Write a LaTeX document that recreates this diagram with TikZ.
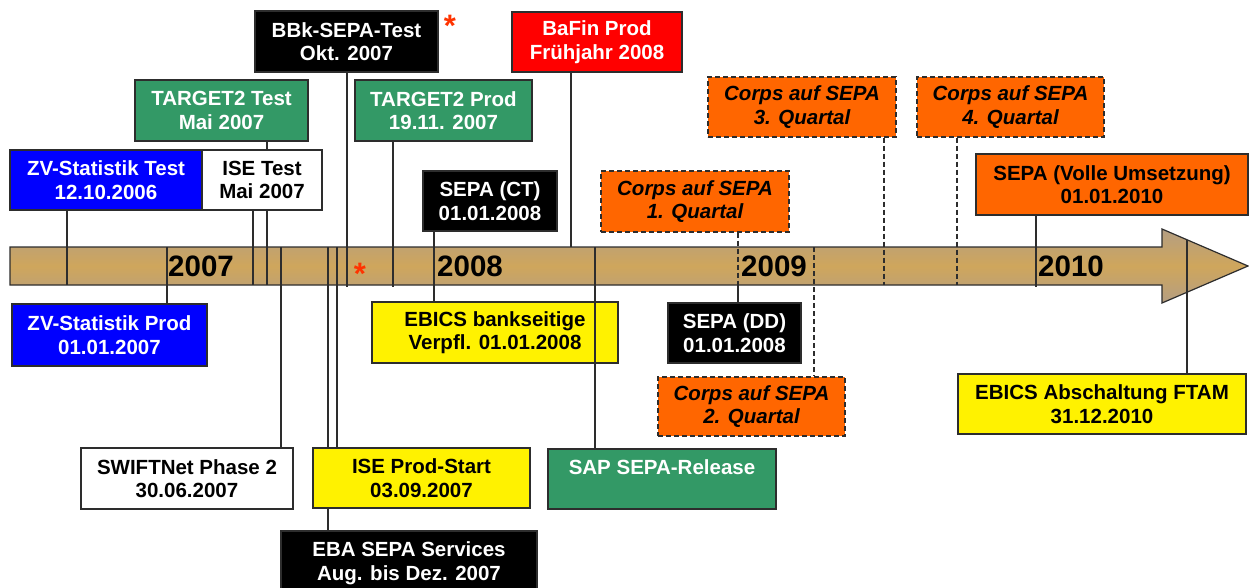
\documentclass[tikz,border=0pt]{standalone}
\usepackage{fontspec}
\setmainfont{Liberation Sans}
\usetikzlibrary{backgrounds}
\definecolor{bargrey}{RGB}{180,158,130}
\definecolor{bargold}{RGB}{207,166,92}
\definecolor{evgreen}{RGB}{51,153,102}
\definecolor{evorange}{RGB}{255,102,0}
\definecolor{starred}{RGB}{255,51,0}
\definecolor{edge}{RGB}{45,45,45}
\tikzset{
  evbox/.style={draw=edge, line width=1.2pt, inner sep=0pt, minimum height=60pt, align=center,
    font=\bfseries\fontsize{20.5}{23.5}\selectfont},
  qbox/.style={evbox, fill=evorange, dash pattern=on 5pt off 3pt,
    font=\bfseries\itshape\fontsize{20.5}{23.5}\selectfont},
  tick/.style={draw=edge, line width=1.3pt},
  qtick/.style={tick, dash pattern=on 5pt off 3pt},
  year/.style={anchor=west, inner sep=0pt, font=\bfseries\fontsize{29.5}{29.5}\selectfont},
  astx/.style={anchor=base, inner sep=0pt, text=starred, font=\bfseries\fontsize{31}{31}\selectfont},
}
\begin{document}
\begin{tikzpicture}[x=1pt,y=-1pt]
\useasboundingbox (0,0) rectangle (1249,587);
%Boxes above the bar
\node[evbox, fill=blue, text=white, minimum width=192pt] (zvtest) at (106,180) {ZV-Statistik Test\\12.10.2006};
\node[evbox, fill=white, minimum width=120pt] (isetest) at (262,180) {ISE Test\\Mai 2007};
\node[evbox, fill=evgreen, text=white, minimum width=173pt, minimum height=61pt] (t2test) at (221.5,110.5) {TARGET2 Test\\Mai 2007};
\node[evbox, fill=black, text=white, minimum width=183pt, minimum height=61pt] (bbk) at (346.5,41.5) {BBk-SEPA-Test\\Okt. 2007};
\node[evbox, fill=evgreen, text=white, minimum width=177pt, minimum height=61pt] (t2prod) at (443.5,110.5) {TARGET2 Prod\\19.11. 2007};
\node[evbox, fill=black, text=white, minimum width=134pt] (sepact) at (490,201) {SEPA (CT)\\01.01.2008};
\node[evbox, fill=red, text=white, minimum width=170pt] (bafin) at (597,42) {BaFin Prod\\Frühjahr 2008};
\node[qbox, minimum width=188pt, minimum height=61pt] (corps1) at (695,201.5) {Corps auf SEPA\\1. Quartal};
\node[qbox, minimum width=188pt] (corps3) at (802,107) {Corps auf SEPA\\3. Quartal};
\node[qbox, minimum width=187pt] (corps4) at (1010.5,107) {Corps auf SEPA\\4. Quartal};
\node[evbox, fill=evorange, minimum width=272pt, minimum height=61pt] (sepafull) at (1112,184.5) {SEPA (Volle Umsetzung)\\01.01.2010};
%Boxes below the bar
\node[evbox, fill=blue, text=white, minimum width=195pt, minimum height=62pt] (zvprod) at (109.5,335) {ZV-Statistik Prod\\01.01.2007};
\node[evbox, fill=yellow, minimum width=246pt, minimum height=61pt] (ebicsb) at (495,332.5) {EBICS bankseitige\\Verpfl. 01.01.2008};
\node[evbox, fill=black, text=white, minimum width=133pt] (sepadd) at (734.5,333) {SEPA (DD)\\01.01.2008};
\node[qbox, minimum width=187pt, minimum height=59pt] (corps2) at (751.5,406.5) {Corps auf SEPA\\2. Quartal};
\node[evbox, fill=evgreen, text=white, minimum width=228pt] (sap) at (662,479) {SAP SEPA-Release\\\phantom{X}};
\node[evbox, fill=yellow, minimum width=288pt] (ftam) at (1102,404) {EBICS Abschaltung FTAM\\31.12.2010};
\node[evbox, fill=white, minimum width=212pt, minimum height=61pt] (swift) at (187,478.5) {SWIFTNet Phase 2\\30.06.2007};
\node[evbox, fill=yellow, minimum width=217pt] (iseprod) at (421.5,478) {ISE Prod-Start\\03.09.2007};
\node[evbox, fill=black, text=white, minimum width=256pt, minimum height=64pt] (eba) at (409,563) {EBA SEPA Services\\Aug. bis Dez. 2007};
%Points on the bar
\coordinate (t-zvtest) at (67,285);
\coordinate (t-isetest) at (253,285);
\coordinate (t-t2test) at (267,285);
\coordinate (t-bbk) at (347,287);
\coordinate (t-t2prod) at (393,287);
\coordinate (t-bafin) at (571,247);
\coordinate (t-corps1) at (738,285);
\coordinate (t-corps3) at (884,285);
\coordinate (t-corps4) at (957,285);
\coordinate (t-sepafull) at (1036,287);
\coordinate (t-zvprod) at (167,247);
\coordinate (t-swift) at (281,247);
\coordinate (t-eba) at (328,247);
\coordinate (t-iseprod) at (337,247);
\coordinate (t-sap) at (595,247);
\coordinate (t-corps2) at (814,247);
\coordinate (t-ftam) at (1187,240);
\begin{scope}[on background layer]
%Bar
\shadedraw[draw=edge, line width=1.2pt, top color=bargrey, bottom color=bargrey, middle color=bargold]
  (10,247) -- (1162,247) -- (1162,229) -- (1248,266) -- (1162,303) -- (1162,285) -- (10,285) -- cycle;
%Lines
\draw[tick] (t-zvtest |- zvtest.south) -- (t-zvtest);
\draw[tick] (t-isetest |- isetest.south) -- (t-isetest);
\draw[tick] (t-t2test |- t2test.south) -- (t-t2test);
\draw[tick] (t-bbk |- bbk.south) -- (t-bbk);
\draw[tick] (t-t2prod |- t2prod.south) -- (t-t2prod);
\draw[tick] (sepact.south -| 434,0) -- (ebicsb.north -| 434,0);
\draw[tick] (t-bafin |- bafin.south) -- (t-bafin);
\draw[qtick] (t-corps1 |- corps1.south) -- (t-corps1);
\draw[tick] (t-corps1) -- (t-corps1 |- sepadd.north);
\draw[qtick] (t-corps3 |- corps3.south) -- (t-corps3);
\draw[qtick] (t-corps4 |- corps4.south) -- (t-corps4);
\draw[tick] (t-sepafull |- sepafull.south) -- (t-sepafull);
\draw[tick] (t-zvprod) -- (t-zvprod |- zvprod.north);
\draw[tick] (t-swift) -- (t-swift |- swift.north);
\draw[tick] (t-eba) -- (t-eba |- eba.north);
\draw[tick] (t-iseprod) -- (t-iseprod |- iseprod.north);
\draw[qtick] (t-corps2) -- (t-corps2 |- corps2.north);
\draw[tick] (t-ftam) -- (t-ftam |- ftam.north);
\end{scope}
\draw[tick] (t-sap) -- (t-sap |- sap.north);
%Text
\node[year] (y2007) at (168,266) {2007};
\node[year] (y2008) at (437,266) {2008};
\node[year] (y2009) at (741,266) {2009};
\node[year] (y2010) at (1038,266) {2010};
\node[astx] (ast1) at (450,36.5) {*};
\node[astx] (ast2) at (360,284.5) {*};
\end{tikzpicture}
\end{document}
